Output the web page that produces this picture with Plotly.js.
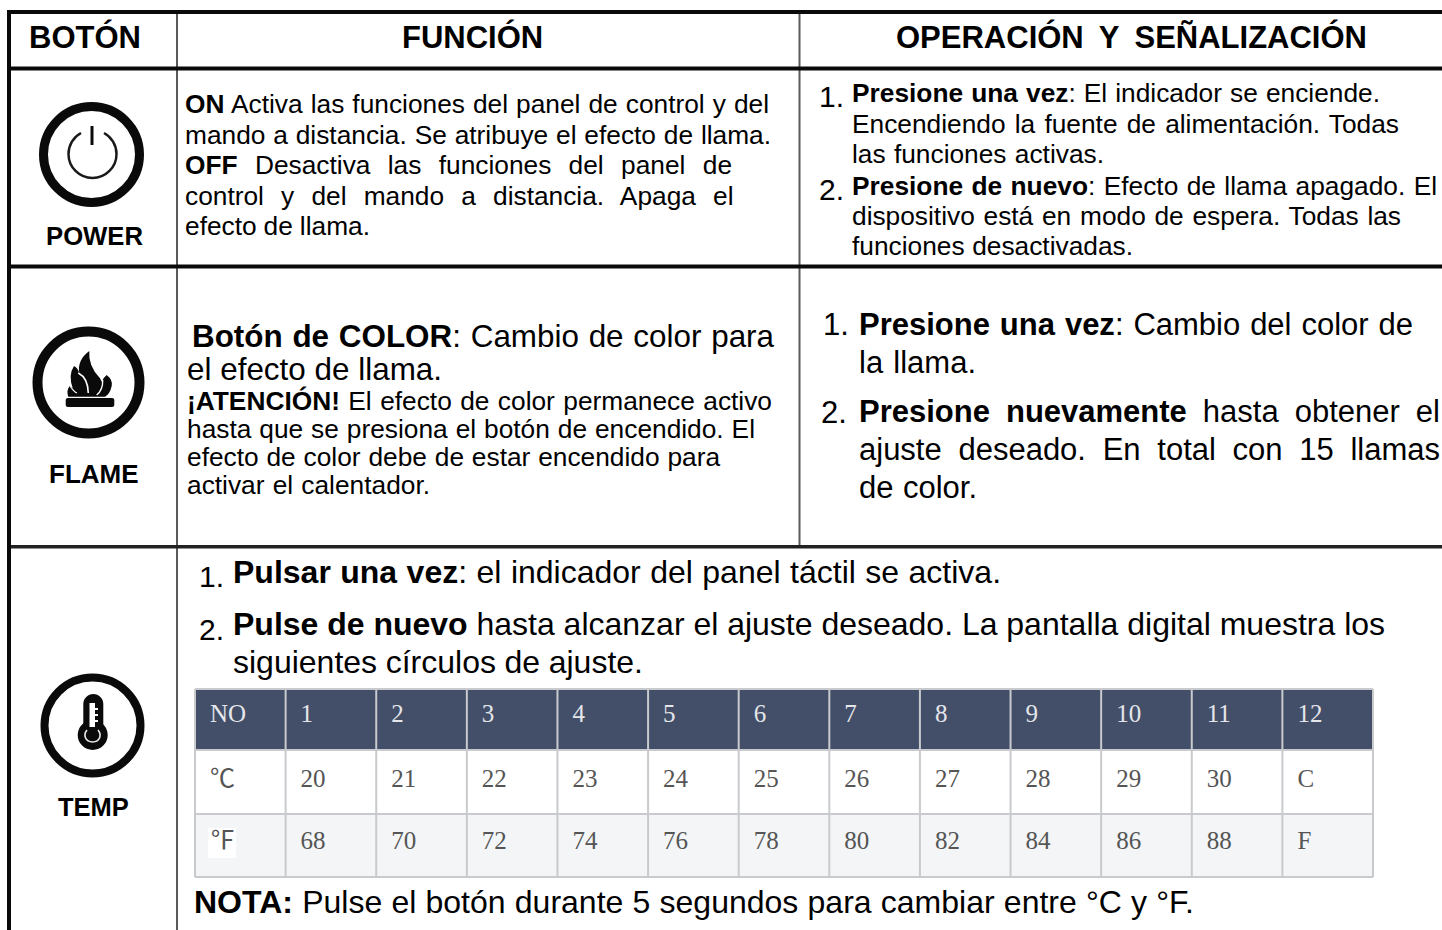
<!DOCTYPE html>
<html><head><meta charset="utf-8">
<script src="https://cdn.plot.ly/plotly-3.0.1.min.js"></script>
<style>html,body{margin:0;padding:0;background:#fff}#g{width:1442px;height:930px}</style>
</head><body><div id="g"></div>
<script>
// ---------- content ----------
const headers = ['<b>BOTÓN</b>','<b>FUNCIÓN</b>','<b>OPERACIÓN Y SEÑALIZACIÓN</b>'];
const buttonLabels = ['<b>POWER</b>','<b>FLAME</b>','<b>TEMP</b>'];
const powerFuncion = [
 '<b>ON</b> Activa las funciones del panel de control y del',
 'mando a distancia. Se atribuye el efecto de llama.',
 '<b>OFF</b> Desactiva las funciones del panel de',
 'control y del mando a distancia. Apaga el',
 'efecto de llama.'];
const powerOperacion = [
 '<b>Presione una vez</b>: El indicador se enciende.',
 'Encendiendo la fuente de alimentación. Todas',
 'las funciones activas.',
 '<b>Presione de nuevo</b>: Efecto de llama apagado. El',
 'dispositivo está en modo de espera. Todas las',
 'funciones desactivadas.'];
const flameFuncion = [
 '<b>Botón de COLOR</b>: Cambio de color para',
 'el efecto de llama.',
 '<b>¡ATENCIÓN!</b> El efecto de color permanece activo',
 'hasta que se presiona el botón de encendido. El',
 'efecto de color debe de estar encendido para',
 'activar el calentador.'];
const flameOperacion = [
 '<b>Presione una vez</b>: Cambio del color de',
 'la llama.',
 '<b>Presione nuevamente</b> hasta obtener el',
 'ajuste deseado. En total con 15 llamas',
 'de color.'];
const tempOperacion = [
 '<b>Pulsar una vez</b>: el indicador del panel táctil se activa.',
 '<b>Pulse de nuevo</b> hasta alcanzar el ajuste deseado. La pantalla digital muestra los',
 'siguientes círculos de ajuste.',
 '<b>NOTA:</b> Pulse el botón durante 5 segundos para cambiar entre °C y °F.'];
const listNumbers = ['1.','2.'];
const tableNo = ['NO','1','2','3','4','5','6','7','8','9','10','11','12'];
const tableC  = ['℃','20','21','22','23','24','25','26','27','28','29','30','C'];
const tableF  = ['℉','68','70','72','74','76','78','80','82','84','86','88','F'];

// ---------- layout helpers ----------
const SANS = '"Liberation Sans", Arial, sans-serif';
const SERIF = '"Liberation Serif", "Noto Sans CJK SC", serif';
const annotations = [], fits = [];
function addLines(texts, x0s, x1s, bases, size){
  texts.forEach((t,i)=>{
    const s = Array.isArray(size) ? size[i] : size;
    annotations.push({xref:'x',yref:'y',x:x0s[i] ?? x0s[0],y:bases[i]-0.3465*s,text:t,showarrow:false,
      xanchor:'left',yanchor:'middle',align:'left',borderpad:0,
      font:{family:SANS,size:s,color:'#000'}});
    fits.push(x1s ? x1s[i]-(x0s[i] ?? x0s[0]) : null);
  });
}
addLines(headers,[28,401,895],[141,547,1366],[48,48,48],[31,31,31]);
addLines(buttonLabels,[45,48,57],null,[245,483,816],[25.7,26,25.5]);
addLines(powerFuncion,[184],[768,770,731,732.5,369],[113,144,174,205,235],26.3);
addLines(powerOperacion,[851],[1379,1398,1103,1436,1400,1132],[102,133,163,195,225,255],26.3);
addLines(flameFuncion,[191,186,186,186,186,186],[773,441,771,754,719,429],[347,380.5,410,438,466,494],[31.4,31.4,26.3,26.3,26.3,26.3]);
addLines(flameOperacion,[858],[1412,975,1439,1439,976],[335,373,422,460,498],31);
addLines(tempOperacion,[232,232,232,193],[1000,1384,642,1193],[583,635,673,913],32);
addLines(listNumbers,[818,818],null,[107,200],30);
addLines(listNumbers,[822,820],null,[335,423],31);
addLines(listNumbers,[198,198],null,[587,640],30);

const hline=(y,x0,x1,w,c)=>({type:'line',xref:'x',yref:'y',x0,x1,y0:y,y1:y,line:{width:w,color:c}});
const vline=(x,y0,y1,w,c)=>({type:'line',xref:'x',yref:'y',x0:x,x1:x,y0,y1,line:{width:w,color:c}});
const path=(d,fill,lw,lc)=>({type:'path',xref:'x',yref:'y',path:d,fillcolor:fill,line:{width:lw||0,color:lc||'rgba(0,0,0,0)'}});
const ring=(cx,cy,r,w,c,fill)=>({type:'circle',xref:'x',yref:'y',x0:cx-r,x1:cx+r,y0:cy-r,y1:cy+r,
  fillcolor:fill||'rgba(0,0,0,0)',line:{width:w,color:c}});
const rect=(x0,x1,y0,y1,fill)=>({type:'rect',xref:'x',yref:'y',x0,x1,y0,y1,fillcolor:fill,line:{width:0}});
const below=s=>Object.assign(s,{layer:'below'});

// inner table geometry
const TX0=195, TX1=1373, colW=(TX1-TX0)/tableNo.length, rowEdges=[689,750,814,877], rowMid=[716,781,843];
const shapes=[
  below(rect(TX0,TX1,rowEdges[0],rowEdges[1],'#434e68')),
  below(rect(TX0,TX1,rowEdges[2],rowEdges[3],'#f3f5f7')),
  below(rect(208,236,828,858,'#ffffff'))
];
rowEdges.forEach(y=>shapes.push(below(hline(y,TX0,TX1,2,'#c8cacd'))));
for(let i=0;i<=tableNo.length;i++) shapes.push(below(vline(TX0+i*colW,rowEdges[0],rowEdges[3],2,'#c8cacd')));

// grid of the document
shapes.push(
  vline(177,12,930,2,'#5a5a5a'),
  vline(799.5,12,547,2,'#5a5a5a'),
  hline(12,7,1442,4,'#0a0a0a'),
  hline(68.5,9,1442,4,'#0a0a0a'),
  hline(266.5,9,1442,4,'#0a0a0a'),
  hline(546.8,9,1442,3.5,'#222222'),
  vline(9,10,930,4,'#0a0a0a')
);
// power icon
shapes.push(ring(91.5,154.5,48,9,'#0a0a0a'),
  path('M81,133 C73.5,137 68.5,145 68.5,154 C68.5,167.25 79.25,178 92.5,178 C105.75,178 116.5,167.25 116.5,154 C116.5,145 111.5,137 104,133','rgba(0,0,0,0)',2.5,'#1a1a1a'),
  vline(92,126,145,3,'#0a0a0a'));
// flame icon
shapes.push(ring(88.5,382.5,51,10,'#0a0a0a'),
  path('M65.7,400 Q65.7,398 68,398 H112 Q114.3,398 114.3,400 V405 Q114.3,407 112,407 H68 Q65.7,407 65.7,405 Z','#0a0a0a'),
  path('M68.3,396.7 Q66,390 70,385.7 L72.7,388.3 Q68,375 74,366 Q78,368 79.3,373.3 Q77,360 89.3,351 Q88,366 100,378.3 L101.7,381.7 Q103,378 106.7,375 Q113,380 111.7,386 Q110,394 105,396.7 Z','#0a0a0a'),
  path('M78.3,373 Q88,378 88.3,393','rgba(0,0,0,0)',1.6,'#ffffff'),
  path('M102.7,380 Q103,390 96.7,395','rgba(0,0,0,0)',1.4,'#ffffff'),
  path('M70,386 Q74,392 77,393','rgba(0,0,0,0)',1.2,'#ffffff'));
// thermometer icon
shapes.push(ring(92.5,725.5,48,8,'#0a0a0a'),
  path('M83.3,730 V704 C83.3,698.5 87.8,694 93.3,694 C98.8,694 103.3,698.5 103.3,704 V730 Z','#0a0a0a'),
  ring(92.7,735,14,2,'#0a0a0a','#0a0a0a'),
  rect(89.5,95,703,727,'#ffffff'),
  rect(93.5,98,708,710,'#ffffff'),
  rect(93.5,98,714,716,'#ffffff'),
  rect(93.5,98,720,722,'#ffffff'),
  path('M87,730 C83,735 85,741.5 92.7,742 C100,741.5 102,735 98,730','rgba(0,0,0,0)',1.6,'#e8e8e8'));

// table text as a scatter trace
const tx=[],ty=[],tt=[],tc=[];
[tableNo,tableC,tableF].forEach((row,r)=>row.forEach((v,c)=>{
  tx.push(TX0+c*colW+15); ty.push(rowMid[r]); tt.push(v); tc.push(r===0?'#e4e6ea':'#555555');
}));
const traces=[{type:'scatter',mode:'text',x:tx,y:ty,text:tt,textposition:'middle right',
  textfont:{family:SERIF,size:25,color:tc},hoverinfo:'skip',showlegend:false}];

const layout={width:1442,height:930,margin:{l:0,r:0,t:0,b:0,pad:0},paper_bgcolor:'#fff',plot_bgcolor:'#fff',
  xaxis:{range:[0,1442],visible:false,fixedrange:true},
  yaxis:{range:[930,0],visible:false,fixedrange:true},
  showlegend:false,shapes,annotations};

Plotly.newPlot('g',traces,layout,{displayModeBar:false,staticPlot:true}).then(gd=>{
  // justified lines: spread the word gaps so each line ends where it does in the source
  gd.querySelectorAll('.annotation').forEach(a=>{
    const idx=+a.getAttribute('data-index'), target=fits[idx];
    const t=a.querySelector('.annotation-text');
    if(!t||target==null) return;
    const spaces=(t.textContent.match(/ /g)||[]).length;
    if(!spaces) return;
    const ws=(target-t.getComputedTextLength())/spaces;
    t.style.wordSpacing=ws.toFixed(2)+'px';
  });
});
</script></body></html>
